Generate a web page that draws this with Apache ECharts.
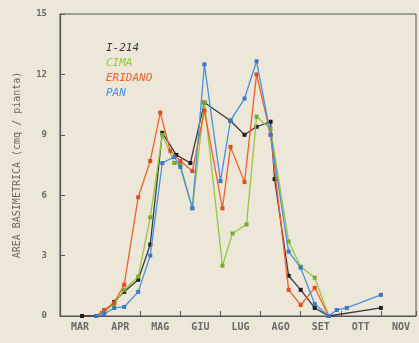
<!DOCTYPE html>
<html>
<head>
<meta charset="utf-8">
<script src="https://cdn.jsdelivr.net/npm/echarts@6/dist/echarts.min.js"></script>
<style>
  html, body { margin: 0; padding: 0; background: #ece7d8; }
  #chart { width: 419px; height: 343px; }
</style>
</head>
<body>
<div id="chart"></div>
<script>
// Month labels, one per month span (0 = 1 March)
const monthLabels = ['MAR', 'APR', 'MAG', 'GIU', 'LUG', 'AGO', 'SET', 'OTT', 'NOV'];
const yTicks = [0, 3, 6, 9, 12, 15];

// Sampling dates in months since 1 March, and basal area (cmq / pianta)
const i214Dates  = [0.55, 0.9, 1.1, 1.35, 1.6, 1.95, 2.25, 2.55, 2.9, 3.25, 3.6, 4.25, 4.6, 4.9, 5.25, 5.35, 5.7, 6.0, 6.35, 6.7, 8.0];
const i214Values = [0, 0, 0.2, 0.7, 1.2, 1.8, 3.55, 9.1, 8.0, 7.6, 10.6, 9.7, 9.0, 9.4, 9.65, 6.8, 2.0, 1.3, 0.4, 0, 0.4];

const cimaDates  = [0.9, 1.1, 1.35, 1.6, 1.95, 2.25, 2.55, 2.85, 3.0, 3.3, 3.6, 4.05, 4.3, 4.65, 4.9, 5.25, 5.7, 6.0, 6.35, 6.7];
const cimaValues = [0, 0.2, 0.6, 1.3, 1.95, 4.9, 9.0, 7.6, 7.5, 5.35, 10.6, 2.5, 4.1, 4.55, 9.9, 9.3, 3.7, 2.45, 1.9, 0];

const eridanoDates  = [0.9, 1.1, 1.35, 1.6, 1.95, 2.25, 2.5, 2.75, 3.0, 3.3, 3.6, 4.05, 4.25, 4.6, 4.9, 5.25, 5.7, 6.0, 6.35, 6.7];
const eridanoValues = [0, 0.3, 0.65, 1.55, 5.9, 7.7, 10.1, 8.2, 7.7, 7.2, 10.2, 5.35, 8.4, 6.65, 12.0, 9.0, 1.3, 0.55, 1.4, 0];

const panDates  = [0.9, 1.1, 1.35, 1.6, 1.95, 2.25, 2.55, 2.85, 3.0, 3.3, 3.6, 4.0, 4.25, 4.6, 4.9, 5.25, 5.7, 6.0, 6.35, 6.7, 6.9, 7.15, 8.0];
const panValues = [0, 0.1, 0.4, 0.45, 1.2, 3.0, 7.6, 7.9, 7.4, 5.35, 12.5, 6.7, 9.7, 10.8, 12.65, 9.0, 3.2, 2.4, 0.6, 0, 0.3, 0.4, 1.05];

const seriesNames = ['I-214', 'CIMA', 'ERIDANO', 'PAN'];
const seriesColors = ['#3b3b40', '#96c83c', '#f0602a', '#4a90dc'];
const markerColors = ['#1e1e22', '#74ae2e', '#e04a22', '#3a78c8'];

const pairs = (xs, ys) => xs.map((x, i) => [x, ys[i]]);
const seriesData = [
  pairs(i214Dates, i214Values),
  pairs(cimaDates, cimaValues),
  pairs(eridanoDates, eridanoValues),
  pairs(panDates, panValues)
];

const X_MAX = 8.875;
const axisGray = '#55555a';
const textGray = '#6a6a6c';
const font = 'DejaVu Sans Mono';

const chart = echarts.init(document.getElementById('chart'), null, { renderer: 'canvas' });

chart.setOption({
  backgroundColor: '#ece7d8',
  animation: false,
  grid: {
    left: 60, right: 3, top: 14, bottom: 27,
    show: true, borderColor: axisGray, borderWidth: 1, backgroundColor: 'transparent'
  },
  legend: {
    orient: 'vertical',
    left: 96, top: 38,
    icon: 'none', itemWidth: 0, itemHeight: 10, itemGap: 4,
    selectedMode: false,
    data: seriesNames.map((n, i) => ({
      name: n,
      textStyle: {
        color: i === 0 ? '#3a3a44' : seriesColors[i],
        fontStyle: 'italic', fontFamily: font, fontSize: 11
      }
    }))
  },
  xAxis: [
    {
      // month boundaries: ticks only
      type: 'value', min: 0, max: X_MAX, interval: 1,
      position: 'bottom',
      axisLine: { show: true, lineStyle: { color: axisGray, width: 1.2 } },
      axisTick: { show: true, inside: true, length: 5, lineStyle: { color: axisGray } },
      axisLabel: { show: false },
      splitLine: { show: false }
    },
    {
      // month names centred in each month span
      type: 'value', min: 0, max: X_MAX, interval: 0.5,
      position: 'bottom',
      axisLine: { show: false },
      axisTick: { show: false },
      splitLine: { show: false },
      axisLabel: {
        show: true, margin: 6, color: textGray, fontFamily: font, fontSize: 10, fontWeight: 'bold',
        formatter: v => {
          const k = Math.round(v * 2);
          if (k % 2 === 1) return monthLabels[(k - 1) / 2] || '';
          return '';
        }
      }
    }
  ],
  yAxis: {
    type: 'value', min: 0, max: 15, interval: 3,
    name: 'AREA BASIMETRICA (cmq / pianta)',
    nameLocation: 'middle', nameGap: 38,
    nameTextStyle: { color: textGray, fontFamily: font, fontSize: 10 },
    axisLine: { show: true, lineStyle: { color: axisGray, width: 1.2 } },
    axisTick: { show: true, inside: true, length: 5, lineStyle: { color: axisGray } },
    axisLabel: {
      color: textGray, fontFamily: font, fontSize: 9, fontWeight: 'bold', margin: 13,
      formatter: v => (yTicks.includes(v) ? String(v) : '')
    },
    splitLine: { show: false }
  },
  series: seriesNames.map((n, i) => ({
    name: n,
    type: 'line',
    xAxisIndex: 0,
    data: seriesData[i],
    symbol: 'rect', symbolSize: 4,
    lineStyle: { color: seriesColors[i], width: 1.3 },
    itemStyle: { color: markerColors[i] },
    z: 2 + i
  }))
});
</script>
</body>
</html>
